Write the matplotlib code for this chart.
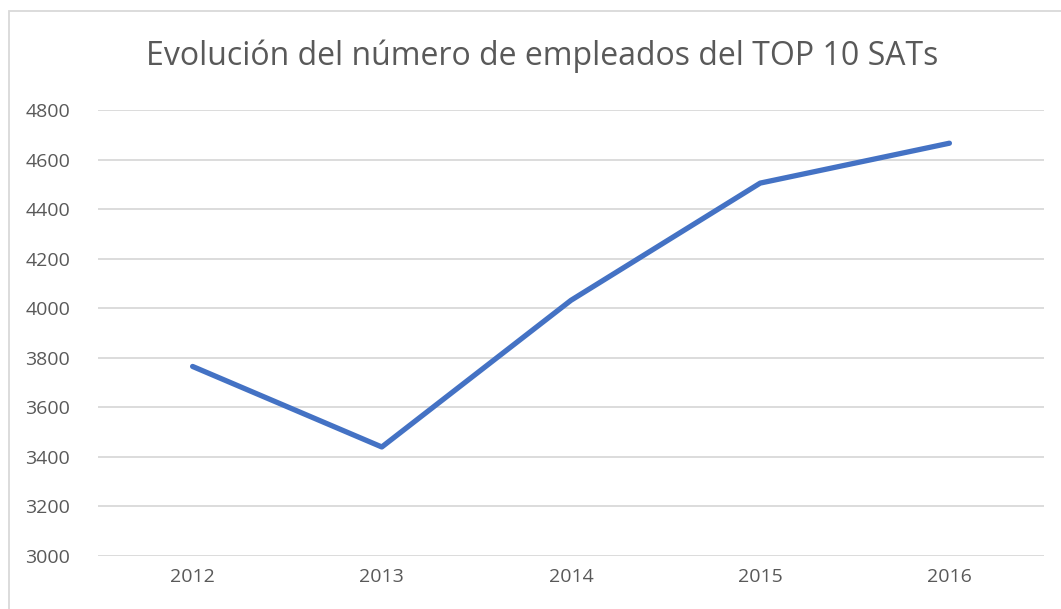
import matplotlib.pyplot as plt
from matplotlib.patches import Rectangle

years = ["2012", "2013", "2014", "2015", "2016"]
employees = [3765, 3440, 4032, 4505, 4666]
y_ticks = [3000, 3200, 3400, 3600, 3800, 4000, 4200, 4400, 4600, 4800]

plt.rcParams['font.family'] = ['Open Sans', 'DejaVu Sans']
text_color = "#595959"

fig = plt.figure(figsize=(10.61, 6.09), dpi=100)
# light chart-area border (right and bottom edges fall outside the picture)
fig.patches.append(Rectangle((9 / 1061, -0.1), 1.2, 1.1 - 11 / 609, transform=fig.transFigure,
                             fill=False, edgecolor="#D9D9D9", linewidth=1.3))

ax = fig.add_axes([98 / 1061, 1 - 556 / 609, (1044 - 98) / 1061, (556 - 110) / 609])
x = range(len(years))
ax.plot(x, employees, color="#4472C4", linewidth=3.8, solid_capstyle="round", solid_joinstyle="round")

ax.set_xlim(-0.5, len(years) - 0.5)
ax.set_ylim(3000, 4800)
ax.set_yticks(y_ticks)
ax.set_xticks(list(x))
ax.set_xticklabels(years)
ax.grid(axis="y", color="#D9D9D9", linewidth=1.3)
ax.set_axisbelow(True)
for s in ax.spines.values():
    s.set_visible(False)
ax.tick_params(length=0, labelsize=14, labelcolor=text_color)
ax.tick_params(axis="y", pad=20)
ax.tick_params(axis="x", pad=9)

fig.text(0.511, 1 - 56 / 609, "Evolución del número de empleados del TOP 10 SATs", ha="center", va="center",
         fontsize=23, color=text_color)

fig.savefig("out.png", dpi=100)
